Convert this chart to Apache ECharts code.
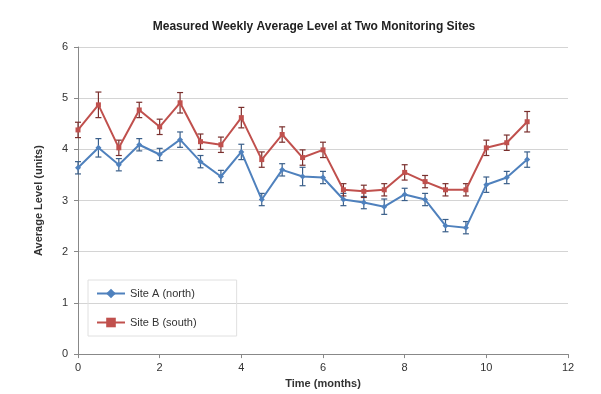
<!DOCTYPE html>
<html>
<head>
<meta charset="utf-8">
<script src="https://cdn.jsdelivr.net/npm/echarts@6/dist/echarts.min.js"></script>
<style>
html,body{margin:0;padding:0;background:#fff;}
#chart{width:601px;height:394px;}
</style>
</head>
<body>
<div id="chart"></div>
<script>
// ---- data ----
var titleText = 'Measured Weekly Average Level at Two Monitoring Sites';
var xAxisTitle = 'Time (months)';
var yAxisTitle = 'Average Level (units)';
var seriesNames = ['Site A (north)', 'Site B (south)'];
var xValues = [0,0.5,1,1.5,2,2.5,3,3.5,4,4.5,5,5.5,6,6.5,7,7.5,8,8.5,9,9.5,10,10.5,11];
var siteA = [3.64,4.03,3.70,4.09,3.90,4.19,3.76,3.47,3.95,3.02,3.60,3.47,3.45,3.02,2.96,2.88,3.12,3.02,2.51,2.47,3.31,3.45,3.80];
var siteB = [4.38,4.87,4.03,4.77,4.44,4.91,4.15,4.09,4.62,3.80,4.29,3.84,3.99,3.21,3.18,3.21,3.55,3.37,3.21,3.21,4.03,4.13,4.54];
var errA = [0.12,0.18,0.12,0.12,0.12,0.15,0.12,0.12,0.15,0.12,0.12,0.18,0.12,0.12,0.12,0.15,0.12,0.12,0.12,0.12,0.15,0.12,0.15];
var errB = [0.15,0.25,0.15,0.15,0.15,0.2,0.15,0.15,0.2,0.15,0.15,0.15,0.15,0.12,0.12,0.12,0.15,0.12,0.12,0.12,0.15,0.15,0.2];
var xTicks = {min:0, max:12, interval:2};
var yTicks = {min:0, max:6, interval:1};
var colors = ['#4f81bd', '#c0504d'];

function pairs(xs, ys){ return xs.map(function(x,i){ return [x, ys[i]]; }); }
function errData(xs, ys, es){ return xs.map(function(x,i){ return [x, ys[i]-es[i], ys[i]+es[i]]; }); }
function errSeries(data, color){
  return {
    type:'custom', silent:true, z:3,
    data:data,
    renderItem:function(params, api){
      var lo = api.coord([api.value(0), api.value(1)]);
      var hi = api.coord([api.value(0), api.value(2)]);
      var w = 3;
      return {type:'group', children:[
        {type:'line', shape:{x1:lo[0],y1:lo[1],x2:hi[0],y2:hi[1]}, style:{stroke:color, lineWidth:1.2}},
        {type:'line', shape:{x1:lo[0]-w,y1:lo[1],x2:lo[0]+w,y2:lo[1]}, style:{stroke:color, lineWidth:1.2}},
        {type:'line', shape:{x1:hi[0]-w,y1:hi[1],x2:hi[0]+w,y2:hi[1]}, style:{stroke:color, lineWidth:1.2}}
      ]};
    }
  };
}

var chart = echarts.init(document.getElementById('chart'));
chart.setOption({
  animation:false,
  backgroundColor:'#fff',
  title:{
    text:titleText, left:309, top:16, textAlign:'center',
    textStyle:{fontFamily:'Liberation Sans', fontSize:12, fontWeight:'bold', color:'#222'}
  },
  legend:{
    orient:'vertical', left:88, top:280,
    data:seriesNames,
    itemWidth:28, itemHeight:12, itemGap:18,
    padding:[8,40,8,8],
    borderColor:'#e0e0e0', borderWidth:1,
    textStyle:{fontFamily:'Liberation Sans', fontSize:11, color:'#333'}
  },
  grid:{left:78, right:33, top:47, bottom:39, containLabel:false},
  xAxis:{
    type:'value', min:xTicks.min, max:xTicks.max, interval:xTicks.interval,
    name:xAxisTitle, nameLocation:'middle', nameGap:22,
    nameTextStyle:{fontFamily:'Liberation Sans', fontSize:11, fontWeight:'bold', color:'#333'},
    axisLine:{show:true, lineStyle:{color:'#888'}},
    axisTick:{show:true, length:4, lineStyle:{color:'#888'}},
    axisLabel:{fontFamily:'Liberation Sans', fontSize:11, color:'#333', margin:8},
    splitLine:{show:false}
  },
  yAxis:{
    type:'value', min:yTicks.min, max:yTicks.max, interval:yTicks.interval,
    name:yAxisTitle, nameLocation:'middle', nameGap:34, nameRotate:90,
    nameTextStyle:{fontFamily:'Liberation Sans', fontSize:11, fontWeight:'bold', color:'#333'},
    axisLine:{show:true, lineStyle:{color:'#888'}},
    axisTick:{show:true, length:4, lineStyle:{color:'#888'}},
    axisLabel:{fontFamily:'Liberation Sans', fontSize:11, color:'#333', margin:10},
    splitLine:{show:true, lineStyle:{color:'#d4d4d4'}}
  },
  series:[
    {
      name:seriesNames[0], type:'line', data:pairs(xValues, siteA),
      color:colors[0], symbol:'diamond', symbolSize:6,
      lineStyle:{width:2, color:colors[0]}, itemStyle:{color:colors[0]}, z:4
    },
    {
      name:seriesNames[1], type:'line', data:pairs(xValues, siteB),
      color:colors[1], symbol:'rect', symbolSize:5,
      lineStyle:{width:2, color:colors[1]}, itemStyle:{color:colors[1]}, z:4
    },
    errSeries(errData(xValues, siteA, errA), '#3a5f8a'),
    errSeries(errData(xValues, siteB, errB), '#7a2f2d')
  ]
});
</script>
</body>
</html>
